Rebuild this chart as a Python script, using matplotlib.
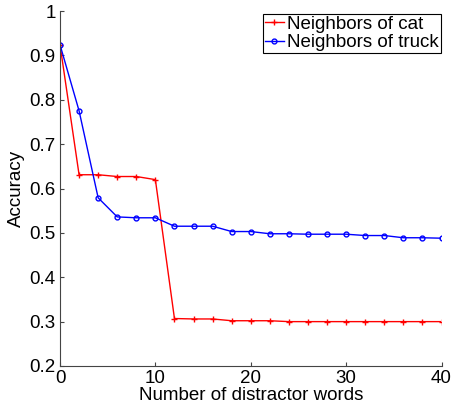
import matplotlib
matplotlib.use("Agg")
import matplotlib.pyplot as plt

plt.rcParams['font.family'] = ['Liberation Sans', 'DejaVu Sans']

x = list(range(0, 41, 2))
cat = [0.924, 0.631, 0.631, 0.627, 0.627, 0.620, 0.307, 0.306, 0.306, 0.302, 0.302,
       0.302, 0.300, 0.300, 0.300, 0.300, 0.300, 0.300, 0.300, 0.300, 0.300]
truck = [0.924, 0.775, 0.579, 0.536, 0.534, 0.534, 0.515, 0.515, 0.515, 0.503, 0.503,
         0.498, 0.498, 0.497, 0.497, 0.497, 0.494, 0.494, 0.489, 0.489, 0.488]
xticks = [0, 10, 20, 30, 40]
yticks = [0.2, 0.3, 0.4, 0.5, 0.6, 0.7, 0.8, 0.9, 1.0]
ylabels = ['0.2', '0.3', '0.4', '0.5', '0.6', '0.7', '0.8', '0.9', '1']

fig = plt.figure(figsize=(4.52, 4.07), dpi=100)
ax = fig.add_axes([60/452, 41/407, 381.5/452, 355/407])
ax.plot(x, cat, color='#ff0000', marker='+', markersize=5, markeredgewidth=1,
        linewidth=1, label='Neighbors of cat')
ax.plot(x, truck, color='#0000ff', marker='o', markersize=3.5, markerfacecolor='none',
        markeredgewidth=1, linewidth=1, label='Neighbors of truck')
ax.set_xlim(0, 40)
ax.set_ylim(0.2, 1.0)
ax.set_xticks(xticks)
ax.set_yticks(yticks)
ax.set_yticklabels(ylabels)
ax.tick_params(direction='in', labelsize=13.5, length=3, pad=3, color='#444444')
ax.tick_params(axis='x', pad=3)
for s in ['top', 'right']:
    ax.spines[s].set_visible(False)
for s in ['left', 'bottom']:
    ax.spines[s].set_color('#444444')
ax.set_xlabel('Number of distractor words', fontsize=13.5, labelpad=0)
ax.set_ylabel('Accuracy', fontsize=13.5, labelpad=3)
leg = ax.legend(loc='upper right', bbox_to_anchor=(441/452, 1 - 14/407),
                bbox_transform=fig.transFigure, fontsize=13.5, fancybox=False,
                framealpha=1, edgecolor='black', borderpad=0.1, handlelength=1.0,
                handletextpad=0.2, labelspacing=0.05, borderaxespad=0)
leg.get_frame().set_linewidth(0.8)
fig.savefig('out.png', dpi=100)
